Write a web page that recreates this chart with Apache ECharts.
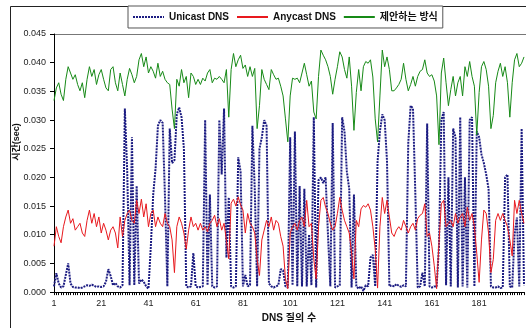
<!DOCTYPE html>
<html>
<head>
<meta charset="utf-8">
<script src="https://cdn.jsdelivr.net/npm/echarts@6/dist/echarts.min.js"></script>
<style>
html, body { margin: 0; padding: 0; background: #fff; }
#chart { width: 526px; height: 328px; }
</style>
</head>
<body>
<div id="chart"></div>
<script>
var seriesNames = ['Unicast DNS', 'Anycast DNS', '제안하는 방식'];

// 응답 시간(sec), 질의 1~200
var unicast = [
    0.0010, 0.0033, 0.0015, 0.0008, 0.0010, 0.0030, 0.0050, 0.0015, 0.0009, 0.0008,
    0.0008, 0.0007, 0.0008, 0.0010, 0.0012, 0.0011, 0.0013, 0.0011, 0.0009, 0.0010,
    0.0009, 0.0010, 0.0018, 0.0040, 0.0028, 0.0012, 0.0016, 0.0010, 0.0008, 0.0012,
    0.0320, 0.0210, 0.0012, 0.0270, 0.0012, 0.0185, 0.0015, 0.0022, 0.0018, 0.0010,
    0.0006, 0.0080, 0.0170, 0.0215, 0.0290, 0.0300, 0.0295, 0.0165, 0.0010, 0.0285,
    0.0225, 0.0230, 0.0310, 0.0322, 0.0305, 0.0250, 0.0010, 0.0008, 0.0010, 0.0068,
    0.0010, 0.0008, 0.0009, 0.0010, 0.0300, 0.0012, 0.0170, 0.0010, 0.0008, 0.0010,
    0.0300, 0.0205, 0.0320, 0.0060, 0.0165, 0.0010, 0.0008, 0.0010, 0.0235, 0.0210,
    0.0010, 0.0030, 0.0010, 0.0012, 0.0290, 0.0180, 0.0010, 0.0250, 0.0270, 0.0300,
    0.0290, 0.0015, 0.0010, 0.0008, 0.0010, 0.0012, 0.0040, 0.0038, 0.0010, 0.0008,
    0.0270, 0.0012, 0.0280, 0.0010, 0.0185, 0.0010, 0.0180, 0.0010, 0.0100, 0.0012,
    0.0305, 0.0008, 0.0195, 0.0200, 0.0190, 0.0200, 0.0100, 0.0010, 0.0295, 0.0008,
    0.0010, 0.0012, 0.0305, 0.0280, 0.0210, 0.0180, 0.0008, 0.0170, 0.0010, 0.0006,
    0.0010, 0.0002, 0.0012, 0.0010, 0.0060, 0.0065, 0.0010, 0.0228, 0.0280, 0.0310,
    0.0300, 0.0228, 0.0010, 0.0012, 0.0010, 0.0014, 0.0011, 0.0009, 0.0012, 0.0010,
    0.0260, 0.0325, 0.0320, 0.0170, 0.0008, 0.0010, 0.0034, 0.0010, 0.0294, 0.0010,
    0.0008, 0.0010, 0.0009, 0.0080, 0.0300, 0.0314, 0.0012, 0.0200, 0.0010, 0.0285,
    0.0270, 0.0008, 0.0305, 0.0010, 0.0200, 0.0008, 0.0300, 0.0305, 0.0010, 0.0280,
    0.0270, 0.0240, 0.0225, 0.0205, 0.0180, 0.0010, 0.0008, 0.0008, 0.0010, 0.0007,
    0.0008, 0.0200, 0.0205, 0.0010, 0.0008, 0.0100, 0.0130, 0.0010, 0.0285, 0.0012
];

var anycast = [
    0.0080, 0.0114, 0.0097, 0.0086, 0.0114, 0.0131, 0.0143, 0.0120, 0.0128, 0.0108,
    0.0114, 0.0120, 0.0103, 0.0097, 0.0125, 0.0143, 0.0120, 0.0137, 0.0114, 0.0131,
    0.0103, 0.0120, 0.0108, 0.0091, 0.0108, 0.0114, 0.0103, 0.0077, 0.0131, 0.0097,
    0.0125, 0.0137, 0.0143, 0.0125, 0.0120, 0.0160, 0.0137, 0.0162, 0.0131, 0.0154,
    0.0114, 0.0137, 0.0143, 0.0114, 0.0131, 0.0120, 0.0114, 0.0137, 0.0120, 0.0114,
    0.0091, 0.0034, 0.0114, 0.0131, 0.0120, 0.0103, 0.0075, 0.0108, 0.0131, 0.0114,
    0.0120, 0.0108, 0.0120, 0.0108, 0.0114, 0.0105, 0.0120, 0.0125, 0.0134, 0.0114,
    0.0128, 0.0108, 0.0120, 0.0090, 0.0058, 0.0155, 0.0162, 0.0150, 0.0166, 0.0152,
    0.0143, 0.0103, 0.0137, 0.0120, 0.0114, 0.0103, 0.0057, 0.0029, 0.0091, 0.0108,
    0.0125, 0.0114, 0.0131, 0.0108, 0.0125, 0.0120, 0.0097, 0.0080, 0.0023, 0.0006,
    0.0103, 0.0114, 0.0120, 0.0108, 0.0125, 0.0131, 0.0114, 0.0160, 0.0114, 0.0120,
    0.0057, 0.0023, 0.0114, 0.0160, 0.0165, 0.0148, 0.0137, 0.0120, 0.0108, 0.0114,
    0.0137, 0.0165, 0.0143, 0.0125, 0.0114, 0.0103, 0.0068, 0.0023, 0.0125, 0.0114,
    0.0145, 0.0151, 0.0148, 0.0154, 0.0143, 0.0114, 0.0075, 0.0007, 0.0114, 0.0165,
    0.0137, 0.0160, 0.0131, 0.0103, 0.0097, 0.0108, 0.0114, 0.0108, 0.0125, 0.0114,
    0.0103, 0.0114, 0.0120, 0.0108, 0.0128, 0.0134, 0.0137, 0.0154, 0.0097, 0.0103,
    0.0080, 0.0046, 0.0006, 0.0086, 0.0154, 0.0160, 0.0114, 0.0120, 0.0125, 0.0114,
    0.0137, 0.0120, 0.0131, 0.0137, 0.0114, 0.0148, 0.0125, 0.0137, 0.0114, 0.0068,
    0.0017, 0.0091, 0.0143, 0.0137, 0.0103, 0.0034, 0.0057, 0.0125, 0.0137, 0.0125,
    0.0137, 0.0125, 0.0114, 0.0091, 0.0063, 0.0160, 0.0137, 0.0160, 0.0137, 0.0120
];

var proposed = [
    0.0334, 0.0356, 0.0365, 0.0345, 0.0334, 0.0371, 0.0393, 0.0382, 0.0371, 0.0379,
    0.0362, 0.0351, 0.0365, 0.0339, 0.0371, 0.0393, 0.0376, 0.0388, 0.0362, 0.0379,
    0.0388, 0.0371, 0.0356, 0.0351, 0.0388, 0.0393, 0.0365, 0.0351, 0.0382, 0.0362,
    0.0342, 0.0371, 0.0390, 0.0379, 0.0365, 0.0376, 0.0405, 0.0416, 0.0393, 0.0410,
    0.0382, 0.0393, 0.0385, 0.0373, 0.0399, 0.0376, 0.0385, 0.0371, 0.0365, 0.0362,
    0.0319, 0.0285, 0.0371, 0.0359, 0.0388, 0.0365, 0.0376, 0.0339, 0.0382, 0.0376,
    0.0362, 0.0371, 0.0362, 0.0373, 0.0368, 0.0382, 0.0388, 0.0365, 0.0373, 0.0371,
    0.0376, 0.0371, 0.0365, 0.0388, 0.0305, 0.0388, 0.0416, 0.0393, 0.0405, 0.0413,
    0.0390, 0.0396, 0.0376, 0.0393, 0.0376, 0.0390, 0.0285, 0.0325, 0.0388, 0.0371,
    0.0362, 0.0353, 0.0388, 0.0379, 0.0371, 0.0373, 0.0359, 0.0342, 0.0302, 0.0262,
    0.0342, 0.0373, 0.0371, 0.0373, 0.0365, 0.0382, 0.0399, 0.0379, 0.0359, 0.0368,
    0.0314, 0.0302, 0.0376, 0.0422, 0.0413, 0.0405, 0.0393, 0.0376, 0.0345, 0.0371,
    0.0393, 0.0419, 0.0410, 0.0388, 0.0373, 0.0410, 0.0359, 0.0282, 0.0348, 0.0388,
    0.0351, 0.0393, 0.0402, 0.0399, 0.0405, 0.0375, 0.0302, 0.0262, 0.0342, 0.0422,
    0.0393, 0.0410, 0.0388, 0.0351, 0.0351, 0.0356, 0.0362, 0.0371, 0.0399, 0.0371,
    0.0351, 0.0362, 0.0376, 0.0359, 0.0376, 0.0385, 0.0388, 0.0405, 0.0382, 0.0376,
    0.0379, 0.0368, 0.0342, 0.0257, 0.0382, 0.0408, 0.0365, 0.0325, 0.0353, 0.0376,
    0.0342, 0.0365, 0.0376, 0.0342, 0.0393, 0.0376, 0.0402, 0.0376, 0.0359, 0.0274,
    0.0348, 0.0393, 0.0402, 0.0388, 0.0359, 0.0285, 0.0308, 0.0365, 0.0385, 0.0399,
    0.0376, 0.0393, 0.0365, 0.0305, 0.0365, 0.0405, 0.0416, 0.0393, 0.0399, 0.0410
];

// x축: DNS 질의 번호
var queryNo = [];
for (var i = 1; i <= unicast.length; i++) {
    queryNo.push(String(i));
}

var fontFamily = '"Liberation Sans", "Noto Sans CJK KR", sans-serif';

var myChart = echarts.init(document.getElementById('chart'));

var option = {
    animation: false,
    backgroundColor: '#fff',
    textStyle: { fontFamily: fontFamily },
    graphic: [
        {
            type: 'rect', silent: true, z: -10,
            shape: { x: 10.5, y: 6.5, width: 600, height: 400 },
            style: { fill: 'none', stroke: '#222', lineWidth: 1 }
        },
        {
            type: 'line', silent: true, z: -10,
            shape: { x1: 53, y1: 34.5, x2: 526, y2: 34.5 },
            style: { stroke: '#777', lineWidth: 1 }
        },
        {
            type: 'text', silent: true,
            x: 17, y: 142, rotation: Math.PI / 2,
            style: {
                text: '시간(sec)', align: 'center', verticalAlign: 'middle',
                font: 'bold 9px ' + fontFamily, fill: '#111'
            }
        }
    ],
    legend: {
        data: seriesNames,
        left: 128,
        top: 6,
        backgroundColor: '#fff',
        borderColor: '#555',
        borderWidth: 1,
        padding: [6, 5, 6, 4],
        itemWidth: 31,
        itemHeight: 10,
        itemGap: 7,
        // 선 모양만 표시 (기호 숨김)
        itemStyle: { opacity: 0 },
        textStyle: { fontSize: 10, fontWeight: 'bold', color: '#111', fontFamily: fontFamily }
    },
    grid: { left: 54, top: 34, right: 2, bottom: 31 },
    xAxis: {
        type: 'category',
        data: queryNo,
        boundaryGap: false,
        name: 'DNS 질의 수',
        nameLocation: 'middle',
        nameGap: 19,
        nameTextStyle: { fontSize: 10, fontWeight: 'bold', color: '#111' },
        axisLine: { lineStyle: { color: '#000', width: 1 } },
        axisTick: { interval: 0, length: 3, lineStyle: { color: '#000' } },
        axisLabel: { interval: 19, fontSize: 9, color: '#222', margin: 7 },
        splitLine: { show: false }
    },
    yAxis: {
        type: 'value',
        min: 0,
        max: 0.045,
        interval: 0.005,
        axisLine: { show: true, lineStyle: { color: '#000', width: 1 } },
        axisTick: { show: true, length: 4, lineStyle: { color: '#000' } },
        axisLabel: {
            fontSize: 9, color: '#222', margin: 8,
            formatter: function (v) { return v.toFixed(3); }
        },
        splitLine: { show: false }
    },
    series: [
        {
            name: seriesNames[0], type: 'line', data: unicast,
            symbol: 'none', z: 3,
            lineStyle: { color: '#1c1c82', width: 2, type: [2, 1] },
            itemStyle: { color: '#1c1c82' }
        },
        {
            name: seriesNames[1], type: 'line', data: anycast,
            symbol: 'none', z: 4,
            lineStyle: { color: '#e8191e', width: 1 },
            itemStyle: { color: '#e8191e' }
        },
        {
            name: seriesNames[2], type: 'line', data: proposed,
            symbol: 'none', z: 4,
            lineStyle: { color: '#178a17', width: 1 },
            itemStyle: { color: '#178a17' }
        }
    ]
};

myChart.setOption(option);
</script>
</body>
</html>
